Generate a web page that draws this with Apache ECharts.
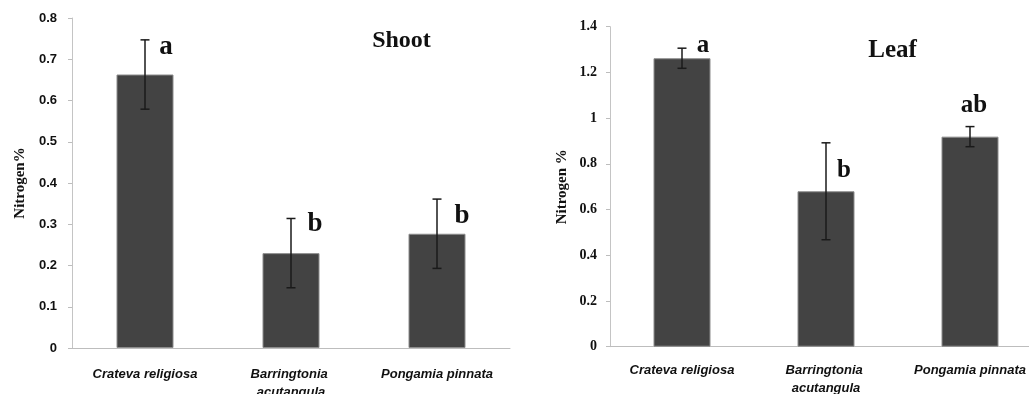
<!DOCTYPE html>
<html>
<head>
<meta charset="utf-8">
<script src="https://cdn.jsdelivr.net/npm/echarts@6/dist/echarts.min.js"></script>
<style>
  html, body { margin: 0; padding: 0; background: #fff; }
  #chart { width: 1029px; height: 394px; }
</style>
</head>
<body>
<div id="chart"></div>
<script>
// species on the x axis
const categories = ['Crateva religiosa', 'Barringtonia acutangula', 'Pongamia pinnata'];

// Shoot nitrogen %
const shootMean = [0.663, 0.23, 0.277];
const shootErr = [0.084, 0.084, 0.084];
const shootLetters = ['a', 'b', 'b'];

// Leaf nitrogen %
const leafMean = [1.262, 0.68, 0.919];
const leafErr = [0.044, 0.212, 0.044];
const leafLetters = ['a', 'b', 'ab'];

// where each letter sits, relative to the top of its error bar (px)
const shootLetterOffset = [[21, 7], [24, 6], [25, 17]];
const leafLetterOffset = [[21, -3], [18, 28], [4, -21]];

const chart = echarts.init(document.getElementById('chart'));

function errorSeries(idx, mean, err, letters, offsets, fontSize) {
    return {
        type: 'custom',
        xAxisIndex: idx,
        yAxisIndex: idx,
        encode: { x: 0, y: 1 },
        data: mean.map((m, i) => [i, m, err[i]]),
        z: 5,
        renderItem: function (params, api) {
            const i = api.value(0);
            const m = api.value(1);
            const e = api.value(2);
            const top = api.coord([i, m + e]);
            const bot = api.coord([i, m - e]);
            const cap = 4.5;
            const lineStyle = { stroke: '#1a1a1a', lineWidth: 1.5 };
            const off = offsets[params.dataIndex];
            return {
                type: 'group',
                children: [
                    { type: 'line', shape: { x1: top[0], y1: top[1], x2: bot[0], y2: bot[1] }, style: lineStyle },
                    { type: 'line', shape: { x1: top[0] - cap, y1: top[1], x2: top[0] + cap, y2: top[1] }, style: lineStyle },
                    { type: 'line', shape: { x1: bot[0] - cap, y1: bot[1], x2: bot[0] + cap, y2: bot[1] }, style: lineStyle },
                    {
                        type: 'text',
                        x: top[0] + off[0],
                        y: top[1] + off[1],
                        style: {
                            text: letters[params.dataIndex],
                            align: 'center',
                            verticalAlign: 'middle',
                            font: 'bold ' + fontSize + 'px "Liberation Serif", serif',
                            fill: '#111'
                        }
                    }
                ]
            };
        }
    };
}

const xAxisCommon = {
    type: 'category',
    data: categories,
    axisLine: { lineStyle: { color: '#bdbdbd', width: 1 } },
    axisTick: { length: 4, lineStyle: { color: '#bdbdbd' } },
    splitLine: { show: false }
};

function xLabel(margin) {
    return {
        interval: 0,
        margin: margin,
        color: '#111',
        fontFamily: '"Liberation Sans", Arial, sans-serif',
        fontStyle: 'italic',
        fontWeight: 'bold',
        fontSize: 13,
        lineHeight: 18,
        width: 130,
        overflow: 'break'
    };
}

const yAxisCommon = {
    type: 'value',
    min: 0,
    axisLine: { show: true, lineStyle: { color: '#c4c4c4', width: 1 } },
    axisTick: { show: true, length: 4, lineStyle: { color: '#bdbdbd' } },
    splitLine: { show: false },
    nameLocation: 'middle',
    nameTextStyle: {
        fontFamily: '"Liberation Serif", serif',
        fontWeight: 'bold',
        fontSize: 15,
        color: '#111'
    }
};

chart.setOption({
    backgroundColor: '#fff',
    animation: false,
    grid: [
        { left: 72, top: 18, right: 519, bottom: 46, outerBoundsMode: 'none' },
        { left: 610, top: 26.7, width: 432, bottom: 47.3, outerBoundsMode: 'none' }
    ],
    xAxis: [
        Object.assign({}, xAxisCommon, { gridIndex: 0, axisLabel: xLabel(17) }),
        Object.assign({}, xAxisCommon, { gridIndex: 1, axisLabel: xLabel(15) })
    ],
    yAxis: [
        Object.assign({}, yAxisCommon, {
            gridIndex: 0, max: 0.8, interval: 0.1,
            name: 'Nitrogen%', nameGap: 44,
            axisLabel: { margin: 15, color: '#111', fontFamily: '"Liberation Sans", Arial, sans-serif', fontWeight: 'bold', fontSize: 13 }
        }),
        Object.assign({}, yAxisCommon, {
            gridIndex: 1, max: 1.4, interval: 0.2,
            name: 'Nitrogen %', nameGap: 40,
            axisLabel: { margin: 13, color: '#111', fontFamily: '"Liberation Serif", serif', fontWeight: 'bold', fontSize: 14 }
        })
    ],
    graphic: [
        { type: 'text', x: 401.5, y: 40.5, style: { text: 'Shoot', align: 'center', verticalAlign: 'middle', font: 'bold 24px "Liberation Serif", serif', fill: '#111' } },
        { type: 'text', x: 892.5, y: 51, style: { text: 'Leaf', align: 'center', verticalAlign: 'middle', font: 'bold 25px "Liberation Serif", serif', fill: '#111' } }
    ],
    series: [
        {
            type: 'bar', xAxisIndex: 0, yAxisIndex: 0, data: shootMean, barWidth: 57,
            itemStyle: { color: '#434343', borderColor: '#8c8c8c', borderWidth: 1 }
        },
        {
            type: 'bar', xAxisIndex: 1, yAxisIndex: 1, data: leafMean, barWidth: 57,
            itemStyle: { color: '#434343', borderColor: '#8c8c8c', borderWidth: 1 }
        },
        errorSeries(0, shootMean, shootErr, shootLetters, shootLetterOffset, 27),
        errorSeries(1, leafMean, leafErr, leafLetters, leafLetterOffset, 25)
    ]
});
</script>
</body>
</html>
